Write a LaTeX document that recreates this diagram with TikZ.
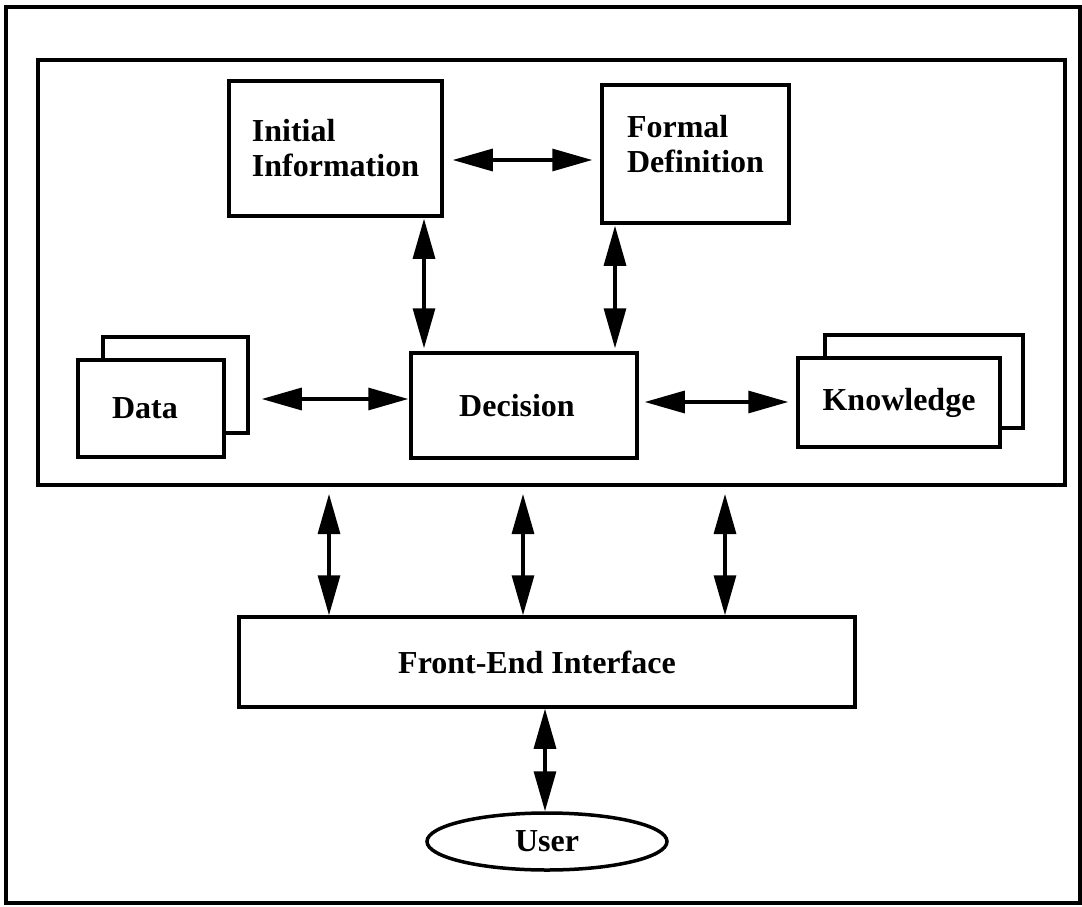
\documentclass[tikz,border=0pt]{standalone}
\usepackage{fontspec}
\setmainfont{Liberation Serif}
\usetikzlibrary{arrows.meta,shapes.geometric}
\begin{document}
\begin{tikzpicture}[x=1pt,y=-1pt,
  box/.style={draw,line width=3.5pt,fill=white,inner sep=0pt,font=\fontsize{32}{35}\selectfont\bfseries,align=left},
  dbl/.style={line width=3.2pt,{Triangle[length=40pt,width=22pt]}-{Triangle[length=40pt,width=22pt]}},
]
\useasboundingbox (0,0) rectangle (1082,907);
% outer frame and inner system box
\node[draw,line width=4pt,minimum width=1074pt,minimum height=896pt,inner sep=0pt] (frame) at (543,455) {};
\node[draw,line width=4pt,minimum width=1027pt,minimum height=425pt,inner sep=0pt] (core) at (551.5,272.5) {};
% boxes
\node[box,minimum width=213pt,minimum height=135pt] (initial) at (335.5,148.5) {Initial\\Information};
\node[box,minimum width=187pt,minimum height=138pt] (formal) at (695.5,154) {Formal\\Definition\\[-14pt]\mbox{}};
\node[box,minimum width=226pt,minimum height=105pt] (decision) at (524,405.5) {Decision\hspace*{14pt}};
\node[box,minimum width=145pt,minimum height=96pt] (databack) at (175.5,385) {};
\node[box,minimum width=146pt,minimum height=97pt] (data) at (151,408.5) {Data\hspace*{12pt}};
\node[box,minimum width=198pt,minimum height=93pt] (knowback) at (924,381.5) {};
\node[box,minimum width=202pt,minimum height=89pt] (know) at (899,402.5) {Knowledge};
\node[box,minimum width=616pt,minimum height=90pt] (fe) at (547,662) {Front-End Interface\hspace*{20pt}};
\node[box,ellipse,minimum width=240pt,minimum height=57pt] (user) at (547,841.5) {User};
% connectors
\draw[dbl] ([shift={(9,11.5)}]initial.east) -- ([shift={(-8,6)}]formal.west);
\draw[dbl] ([shift={(88.5,1)}]initial.south) -- ([shift={(-100,-3)}]decision.north);
\draw[dbl] ([shift={(-80.5,1)}]formal.south) -- ([shift={(91,-3)}]decision.north);
\draw[dbl] ([shift={(36,-9.5)}]data.east) -- ([shift={(-1,-6.5)}]decision.west);
\draw[dbl] ([shift={(6,-3.5)}]decision.east) -- ([shift={(-8,-0.5)}]know.west);
\draw[dbl] ([shift={(-222.5,7)}]core.south) -- ([shift={(-218,0)}]fe.north);
\draw[dbl] ([shift={(-28.5,7)}]core.south) -- ([shift={(-24,0)}]fe.north);
\draw[dbl] ([shift={(173.5,7)}]core.south) -- ([shift={(178,0)}]fe.north);
\draw[dbl] ([shift={(-2,0)}]fe.south) -- ([shift={(-2,0)}]user.north);
\end{tikzpicture}
\end{document}
